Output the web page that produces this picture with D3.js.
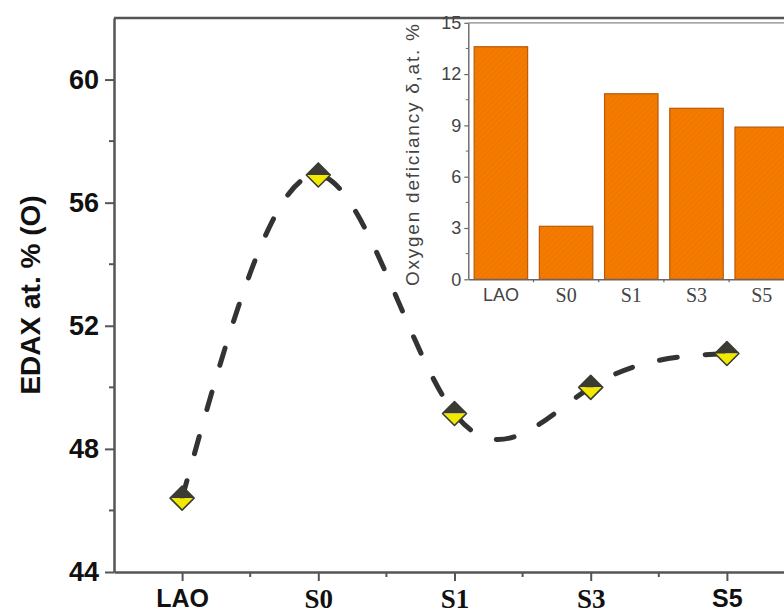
<!DOCTYPE html>
<html>
<head>
<meta charset="utf-8">
<script src="https://cdn.jsdelivr.net/npm/d3@7"></script>
<style>
  html, body { margin: 0; padding: 0; background: #fff; }
  svg { display: block; }
</style>
</head>
<body>
<svg id="chart" width="784" height="615"></svg>
<script>
// Samples along the x axis
const samples = ["LAO", "S0", "S1", "S3", "S5"];
// Oxygen content from EDAX, at. %
const edaxO = [46.4, 56.9, 49.15, 50.0, 51.1];
// Oxygen deficiency δ, at. %
const deficiency = [13.6, 3.1, 10.85, 10.0, 8.9];
// Axis ticks
const mainYTicks = [44, 48, 52, 56, 60];
const mainYMinor = [46, 50, 54, 58];
const insetYTicks = [0, 3, 6, 9, 12, 15];
const insetYMinor = [1.5, 4.5, 7.5, 10.5, 13.5];

const svg = d3.select("#chart");
const axisColor = "#555";
const sans = "'Liberation Sans', Arial, sans-serif";
const serif = "'Liberation Serif', 'Times New Roman', serif";
const serifLabels = new Set(["S0", "S1", "S3"]);
const insetSerif = new Set(["S0", "S1", "S3", "S5"]);

// ---------- main panel ----------
const x = d3.scaleLinear().domain([-0.5, samples.length - 0.5]).range([114, 795]);
const y = d3.scaleLinear().domain([44, 62]).range([572, 18]);

// frame: top and right edges
svg.append("path")
  .attr("d", `M${x.range()[0]},${y.range()[1]}H${x.range()[1]}V${y.range()[0]}`)
  .attr("fill", "none").attr("stroke", axisColor).attr("stroke-width", 2.5);

// left axis
const yAxis = svg.append("g").attr("transform", `translate(${x.range()[0]},0)`)
  .call(d3.axisLeft(y).tickValues(mainYTicks).tickSize(9).tickSizeOuter(0).tickPadding(6));
yAxis.select(".domain").attr("stroke", axisColor).attr("stroke-width", 2.5);
yAxis.selectAll(".tick line").attr("stroke", axisColor).attr("stroke-width", 2);
yAxis.selectAll(".tick text").attr("font-family", sans).attr("font-weight", "bold")
  .attr("font-size", 27).attr("fill", "#111");
yAxis.selectAll(".minor").data(mainYMinor).join("line").attr("class", "minor")
  .attr("x1", -5).attr("x2", 0).attr("y1", d => y(d)).attr("y2", d => y(d))
  .attr("stroke", axisColor).attr("stroke-width", 2);

// bottom axis
const xAxis = svg.append("g").attr("transform", `translate(0,${y.range()[0]})`)
  .call(d3.axisBottom(x).tickValues(d3.range(samples.length)).tickFormat(i => samples[i])
    .tickSize(9).tickSizeOuter(0).tickPadding(8));
xAxis.select(".domain").attr("stroke", axisColor).attr("stroke-width", 2.5);
xAxis.selectAll(".tick line").attr("stroke", axisColor).attr("stroke-width", 2);
xAxis.selectAll(".tick text")
  .attr("font-family", (d) => serifLabels.has(samples[d]) ? serif : sans)
  .attr("font-weight", "bold").attr("font-size", (d) => serifLabels.has(samples[d]) ? 27 : 25)
  .attr("fill", "#111");
xAxis.selectAll(".minor").data(d3.range(samples.length - 1).map(i => i + 0.5)).join("line")
  .attr("class", "minor")
  .attr("x1", d => x(d)).attr("x2", d => x(d)).attr("y1", 0).attr("y2", 5)
  .attr("stroke", axisColor).attr("stroke-width", 2);

// y title
svg.append("text")
  .attr("transform", `translate(40,${(y.range()[0] + y.range()[1]) / 2}) rotate(-90)`)
  .attr("text-anchor", "middle")
  .attr("font-family", sans).attr("font-weight", "bold").attr("font-size", 28)
  .attr("fill", "#111")
  .text("EDAX at. % (O)");

// dashed spline through the EDAX points
const line = d3.line().x((d, i) => x(i)).y(d => y(d)).curve(d3.curveNatural);
svg.append("path").datum(edaxO)
  .attr("d", line)
  .attr("fill", "none").attr("stroke", "#333").attr("stroke-width", 5)
  .attr("stroke-linecap", "round").attr("stroke-dasharray", "18,28");

// half-filled diamond markers
const r = 12;
const markers = svg.selectAll(".marker").data(edaxO).join("g").attr("class", "marker")
  .attr("transform", (d, i) => `translate(${x(i)},${y(d)})`);
markers.append("path").attr("d", `M${-r},0L0,${-r}L${r},0Z`).attr("fill", "#3b3b33");
markers.append("path").attr("d", `M${-r},0L0,${r}L${r},0Z`).attr("fill", "#f2e900");
markers.append("path").attr("d", `M${-r},0L0,${-r}L${r},0L0,${r}Z`)
  .attr("fill", "none").attr("stroke", "#3b3b33").attr("stroke-width", 1.6)
  .attr("stroke-linejoin", "round");

// ---------- inset bar chart ----------
const xi = d3.scaleBand().domain(samples).range([468.3, 794.3])
  .paddingInner(0.18).paddingOuter(0.09);
const yi = d3.scaleLinear().domain([0, 15]).range([279.3, 22.8]);

const defs = svg.append("defs");
const pat = defs.append("pattern").attr("id", "hatch")
  .attr("patternUnits", "userSpaceOnUse").attr("width", 4).attr("height", 4)
  .attr("patternTransform", "rotate(45)");
pat.append("rect").attr("width", 4).attr("height", 4).attr("fill", "#f47b00");
pat.append("line").attr("x1", 0).attr("y1", 0).attr("x2", 0).attr("y2", 4)
  .attr("stroke", "#e86e00").attr("stroke-width", 1);

const inset = svg.append("g");
inset.append("rect")
  .attr("x", 440).attr("y", 20).attr("width", 360).attr("height", 292)
  .attr("fill", "#fff");

// inset top edge
inset.append("line")
  .attr("x1", xi.range()[0]).attr("x2", xi.range()[1])
  .attr("y1", yi.range()[1]).attr("y2", yi.range()[1])
  .attr("stroke", "#888").attr("stroke-width", 1.2);

inset.selectAll(".bar").data(deficiency).join("rect").attr("class", "bar")
  .attr("x", (d, i) => xi(samples[i])).attr("width", xi.bandwidth())
  .attr("y", d => yi(d)).attr("height", d => yi(0) - yi(d))
  .attr("fill", "url(#hatch)").attr("stroke", "#b85a08").attr("stroke-width", 1.2);

const yiAxis = inset.append("g").attr("transform", `translate(${xi.range()[0]},0)`)
  .call(d3.axisLeft(yi).tickValues(insetYTicks).tickSize(4).tickSizeOuter(0).tickPadding(3));
yiAxis.select(".domain").attr("stroke", "#666").attr("stroke-width", 1.4);
yiAxis.selectAll(".tick line").attr("stroke", "#666").attr("stroke-width", 1.2);
yiAxis.selectAll(".tick text").attr("font-family", sans).attr("font-size", 18).attr("fill", "#444");
yiAxis.selectAll(".minor").data(insetYMinor).join("line").attr("class", "minor")
  .attr("x1", -2.5).attr("x2", 0).attr("y1", d => yi(d)).attr("y2", d => yi(d))
  .attr("stroke", "#666").attr("stroke-width", 1);

const xiAxis = inset.append("g").attr("transform", `translate(0,${yi.range()[0]})`)
  .call(d3.axisBottom(xi).tickSize(0).tickSizeOuter(0).tickPadding(9));
xiAxis.select(".domain").attr("stroke", "#666").attr("stroke-width", 1.4);
xiAxis.selectAll(".tick text")
  .attr("font-family", d => insetSerif.has(d) ? serif : sans)
  .attr("font-size", d => insetSerif.has(d) ? 20 : 18).attr("fill", "#444");
xiAxis.selectAll(".gap").data(samples.slice(1)).join("line").attr("class", "gap")
  .attr("x1", d => xi(d) - xi.step() * xi.paddingInner() / 2)
  .attr("x2", d => xi(d) - xi.step() * xi.paddingInner() / 2)
  .attr("y1", 0).attr("y2", 3).attr("stroke", "#666").attr("stroke-width", 1.2);

inset.append("text")
  .attr("transform", `translate(419,${(yi.range()[0] + yi.range()[1]) / 2 + 4}) rotate(-90)`)
  .attr("text-anchor", "middle")
  .attr("font-family", sans).attr("font-size", 19).attr("fill", "#444")
  .attr("textLength", 262).attr("lengthAdjust", "spacing")
  .text("Oxygen deficiancy δ,at. %");
</script>
</body>
</html>
